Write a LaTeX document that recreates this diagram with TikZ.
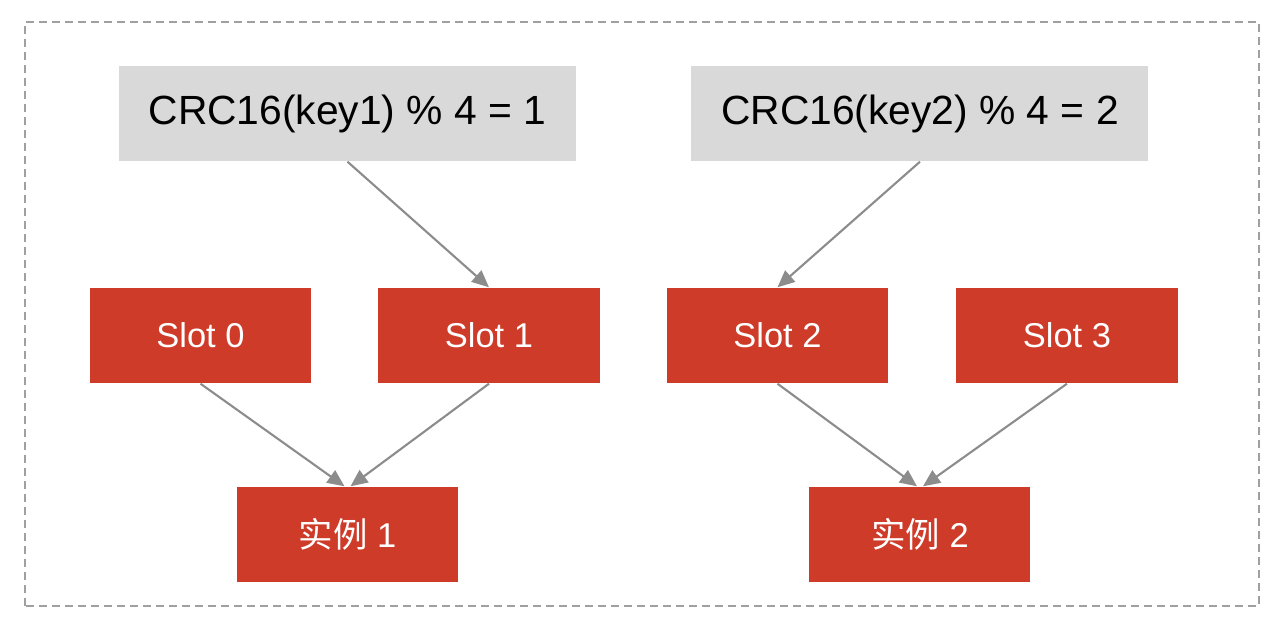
\documentclass[tikz,border=0pt]{standalone}
\usepackage{fontspec}
\setmainfont{Liberation Sans}
\newfontfamily\cjk{Noto Sans CJK SC}
\usetikzlibrary{arrows.meta}
\definecolor{slotred}{RGB}{207,59,41}
\definecolor{hashgray}{RGB}{217,217,217}
\definecolor{linkgray}{RGB}{140,140,140}
\definecolor{framegray}{RGB}{160,160,160}
\tikzset{
  hashbox/.style={fill=hashgray,minimum width=4.57cm,minimum height=0.95cm,inner sep=0pt,font=\fontsize{11.6}{14}\selectfont},
  slotbox/.style={fill=slotred,text=white,minimum width=2.21cm,minimum height=0.95cm,inner sep=0pt,font=\fontsize{9.8}{12}\selectfont},
  link/.style={draw=linkgray,line width=0.6pt,-{Triangle[length=0.17cm,width=0.15cm]}}
}
\begin{document}
\begin{tikzpicture}
\useasboundingbox (0,0) rectangle (12.86,6.26);
\draw[framegray,line width=0.5pt,dash pattern=on 0.08cm off 0.05cm] (0.25,0.20) rectangle (12.59,6.04);
% hash of the keys
\node[hashbox] (crc1) at (3.475,5.125) {CRC16(key1) \% 4 = 1};
\node[hashbox] (crc2) at (9.20,5.125) {CRC16(key2) \% 4 = 2};
% slots
\node[slotbox] (slot0) at (2.005,2.905) {Slot 0};
\node[slotbox] (slot1) at (4.89,2.905) {Slot 1};
\node[slotbox] (slot2) at (7.775,2.905) {Slot 2};
\node[slotbox] (slot3) at (10.67,2.905) {Slot 3};
% instances
\node[slotbox] (inst1) at (3.475,0.915) {{\cjk 实例} 1};
\node[slotbox] (inst2) at (9.20,0.915) {{\cjk 实例} 2};
\draw[link] (crc1.south) -- (slot1.north);
\draw[link] (crc2.south) -- (slot2.north);
\draw[link] (slot0.south) -- ([xshift=-0.03cm]inst1.north);
\draw[link] (slot1.south) -- ([xshift=0.03cm]inst1.north);
\draw[link] (slot2.south) -- ([xshift=-0.03cm]inst2.north);
\draw[link] (slot3.south) -- ([xshift=0.03cm]inst2.north);
\end{tikzpicture}
\end{document}
